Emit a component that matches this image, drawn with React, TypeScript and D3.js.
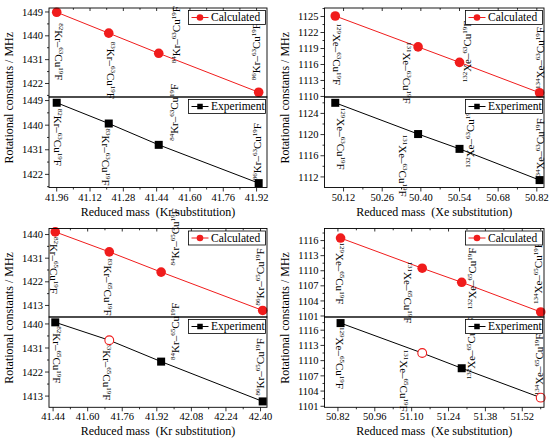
import * as d3 from "d3";

const FONT = "Liberation Serif, Tinos, DejaVu Serif, serif";
const RED = "#f01c1c";
const BLACK = "#000";

// reduced masses and rotational constants (MHz)
const KR63_MASS = [40.96, 41.21, 41.45, 41.93];
const KR63_CALC = [1448.9, 1441.0, 1433.4, 1418.7];
const KR63_EXP = [1448.2, 1440.6, 1432.8, 1418.8];
const KR63_HOLLOW = [false, false, false, false];

const XE63_MASS = [50.09, 50.39, 50.54, 50.83];
const XE63_CALC = [1125.1, 1119.3, 1116.4, 1110.7];
const XE63_EXP = [1126.0, 1120.1, 1117.3, 1111.4];
const XE63_HOLLOW = [false, false, false, false];

const KR65_MASS = [41.45, 41.7, 41.94, 42.41];
const KR65_CALC = [1441.0, 1433.4, 1425.7, 1411.1];
const KR65_EXP = [1440.6, 1433.9, 1425.9, 1411.0];
const KR65_HOLLOW = [false, true, false, false];

const XE65_MASS = [50.83, 51.14, 51.29, 51.59];
const XE65_CALC = [1116.5, 1110.5, 1107.7, 1101.8];
const XE65_EXP = [1117.4, 1111.5, 1108.5, 1102.7];
const XE65_HOLLOW = [false, true, false, true];

const KR_ISOTOPES = ["82", "83", "84", "86"];
const XE_ISOTOPES = ["129", "131", "132", "134"];

// tick values and labels
const KR63_XTICKS = [40.96, 41.12, 41.28, 41.44, 41.6, 41.76, 41.92];
const KR63_XLABELS = ["41.96", "41.12", "41.28", "41.44", "41.60", "41.76", "41.92"];
const KR65_XTICKS = [41.44, 41.6, 41.76, 41.92, 42.08, 42.24, 42.4];
const KR65_XLABELS = ["41.44", "41.60", "41.76", "41.92", "42.08", "42.24", "42.40"];
const XE63_XTICKS = [50.12, 50.26, 50.4, 50.54, 50.68, 50.82];
const XE63_XLABELS = ["50.12", "50.26", "50.40", "50.54", "50.68", "50.82"];
const XE65_XTICKS = [50.82, 50.96, 51.1, 51.24, 51.38, 51.52];
const XE65_XLABELS = ["50.82", "50.96", "51.10", "51.24", "51.38", "51.52"];

const KR63_YTICKS = [1422, 1431, 1440, 1449];
const KR65_YTICKS = [1413, 1422, 1431, 1440];
const XE63_CALC_YTICKS = [1110, 1113, 1116, 1119, 1122, 1125];
const XE63_EXP_YTICKS = [1112, 1116, 1120, 1124];
const XE65_YTICKS = [1101, 1104, 1107, 1110, 1113, 1116];

type Offset = [number, number, number]; // dx, dy, rotation

type Series = {
  values: number[];
  hollow?: boolean[];
  yDomain: [number, number];
  yTicks: number[];
  labelOffsets: Offset[];
};

type PanelDef = {
  col: number;
  row: number;
  element: string;
  cu: string;
  isotopes: string[];
  mass: number[];
  xDomain: [number, number];
  xTicks: number[];
  xLabels: string[];
  calc: Series;
  exp: Series;
};

const COLS = [
  { left: 49, right: 267, titleX: 13 },
  { left: 324.5, right: 544, titleX: 289 },
];
const ROWS = [
  { top: 8, split: 97, bottom: 187.5 },
  { top: 228.5, split: 317, bottom: 407.3 },
];

const TICK = { major: 4, minor: 2, fontSize: 10.5 };

const PANELS: PanelDef[] = [
  {
    col: 0,
    row: 0,
    element: "Kr",
    cu: "63",
    isotopes: KR_ISOTOPES,
    mass: KR63_MASS,
    xDomain: [40.923, 41.97],
    xTicks: KR63_XTICKS,
    xLabels: KR63_XLABELS,
    calc: {
      values: KR63_CALC,
      yDomain: [1416.9, 1450.5],
      yTicks: KR63_YTICKS,
      labelOffsets: [[-2, 11, 90], [-1.7, 8.7, 90], [21, 10, -90], [1, -12, -90]],
    },
    exp: {
      values: KR63_EXP,
      hollow: KR63_HOLLOW,
      yDomain: [1417.2, 1450.3],
      yTicks: KR63_YTICKS,
      labelOffsets: [[-3, 6, 90], [-7, 5, 90], [19, -4, -90], [2, -3, -90]],
    },
  },
  {
    col: 1,
    row: 0,
    element: "Xe",
    cu: "63",
    isotopes: XE_ISOTOPES,
    mass: XE63_MASS,
    xDomain: [50.051, 50.846],
    xTicks: XE63_XTICKS,
    xLabels: XE63_XLABELS,
    calc: {
      values: XE63_CALC,
      yDomain: [1109.9, 1126.6],
      yTicks: XE63_CALC_YTICKS,
      labelOffsets: [[-2.3, 7.4, 90], [-15, -5, 90], [11.6, 20, -90], [4.4, -3.7, -90]],
    },
    exp: {
      values: XE63_EXP,
      hollow: XE63_HOLLOW,
      yDomain: [1110, 1127.1],
      yTicks: XE63_EXP_YTICKS,
      labelOffsets: [[1.7, 5, 90], [-19, 0.7, 90], [14.4, 19, -90], [4, 0, -90]],
    },
  },
  {
    col: 0,
    row: 1,
    element: "Kr",
    cu: "65",
    isotopes: KR_ISOTOPES,
    mass: KR65_MASS,
    xDomain: [41.421, 42.43],
    xTicks: KR65_XTICKS,
    xLabels: KR65_XLABELS,
    calc: {
      values: KR65_CALC,
      yDomain: [1408.6, 1442.3],
      yTicks: KR65_YTICKS,
      labelOffsets: [[-5, 5, 90], [-5.6, 6.6, 90], [18, -6.7, -90], [1.6, -5, -90]],
    },
    exp: {
      values: KR65_EXP,
      hollow: KR65_HOLLOW,
      yDomain: [1408.8, 1442.6],
      yTicks: KR65_YTICKS,
      labelOffsets: [[-2.7, 4, 90], [-6.7, 3, 90], [18, -1.7, -90], [1.6, -6, -90]],
    },
  },
  {
    col: 1,
    row: 1,
    element: "Xe",
    cu: "65",
    isotopes: XE_ISOTOPES,
    mass: XE65_MASS,
    xDomain: [50.769, 51.6025],
    xTicks: XE65_XTICKS,
    xLabels: XE65_XLABELS,
    calc: {
      values: XE65_CALC,
      yDomain: [1100.8, 1118.4],
      yTicks: XE65_YTICKS,
      labelOffsets: [[-5, 4.4, 90], [-18.4, -6.6, 90], [14.3, 27, -90], [1, -8, -90]],
    },
    exp: {
      values: XE65_EXP,
      hollow: XE65_HOLLOW,
      yDomain: [1100.8, 1118.6],
      yTicks: XE65_YTICKS,
      labelOffsets: [[-4.3, 4, 90], [-22.4, -3.3, 90], [13.3, 11, -90], [2.4, -2.3, -90]],
    },
  },
];

function IsotopeLabel({
  x,
  y,
  rot,
  iso,
  element,
  cu,
}: {
  x: number;
  y: number;
  rot: number;
  iso: string;
  element: string;
  cu: string;
}) {
  const sup = 7;
  const shift = 4;
  return (
    <text
      transform={`translate(${x},${y}) rotate(${rot})`}
      style={{ fontFamily: FONT }}
      fontSize={11}
      fill={BLACK}
    >
      <tspan fontSize={sup} dy={-shift}>
        {iso}
      </tspan>
      <tspan dy={shift}>{element}–</tspan>
      <tspan fontSize={sup} dy={-shift}>
        {cu}
      </tspan>
      <tspan dy={shift}>Cu</tspan>
      <tspan fontSize={sup} dy={-shift}>
        19
      </tspan>
      <tspan dy={shift}>F</tspan>
    </text>
  );
}

function Marker({
  kind,
  x,
  y,
  hollow,
  small,
}: {
  kind: "calc" | "exp";
  x: number;
  y: number;
  hollow?: boolean;
  small?: boolean;
}) {
  if (kind === "calc") {
    return <circle cx={x} cy={y} r={small ? 3.3 : 4.8} fill={RED} />;
  }
  if (hollow) {
    return (
      <circle cx={x} cy={y} r={4.4} fill="#fff" stroke={RED} strokeWidth={1.1} />
    );
  }
  const s = small ? 5.5 : 8;
  return <rect x={x - s / 2} y={y - s / 2} width={s} height={s} fill={BLACK} />;
}

function Legend({
  right,
  top,
  kind,
}: {
  right: number;
  top: number;
  kind: "calc" | "exp";
}) {
  const w = 77;
  const h = 14;
  const x = right - w - 1.5;
  const y = top + 2.5;
  const color = kind === "calc" ? RED : BLACK;
  return (
    <g className="legend">
      <rect x={x} y={y} width={w} height={h} fill="#fff" stroke={BLACK} strokeWidth={0.8} />
      <line x1={x + 3} x2={x + 20} y1={y + h / 2} y2={y + h / 2} stroke={color} strokeWidth={1} />
      <Marker kind={kind} x={x + 11.5} y={y + h / 2} small />
      <text
        x={x + 22.5}
        y={y + h / 2 + 3.8}
        style={{ fontFamily: FONT }}
        fontSize={11.5}
        fill={BLACK}
      >
        {kind === "calc" ? "Calculated" : "Experiment"}
      </text>
    </g>
  );
}

function Subplot({
  panel,
  kind,
  top,
  bottom,
  showX,
}: {
  panel: PanelDef;
  kind: "calc" | "exp";
  top: number;
  bottom: number;
  showX: boolean;
}) {
  const { left, right } = COLS[panel.col];
  const series = kind === "calc" ? panel.calc : panel.exp;
  const color = kind === "calc" ? RED : BLACK;

  const xScale = d3.scaleLinear().domain(panel.xDomain).range([left, right]);
  const yScale = d3.scaleLinear().domain(series.yDomain).range([bottom, top]);

  const yStep = series.yTicks[1] - series.yTicks[0];
  const yMinor = series.yTicks
    .map((t) => t + yStep / 2)
    .concat([series.yTicks[0] - yStep / 2])
    .filter((t) => t > series.yDomain[0] && t < series.yDomain[1]);

  const xStep = panel.xTicks[2] - panel.xTicks[1];
  const xMinor = panel.xTicks
    .map((t) => t + xStep / 2)
    .concat([panel.xTicks[0] - xStep / 2])
    .filter((t) => t > panel.xDomain[0] && t < panel.xDomain[1]);

  const line = d3
    .line<number>()
    .x((_, i) => xScale(panel.mass[i]))
    .y((d) => yScale(d));

  return (
    <g className={`subplot-${kind}`}>
      {/* y axis ticks */}
      {series.yTicks.map((t) => (
        <g key={t}>
          <line
            x1={left - TICK.major}
            x2={left}
            y1={yScale(t)}
            y2={yScale(t)}
            stroke={BLACK}
            strokeWidth={0.8}
          />
          <text
            x={left - TICK.major - 2}
            y={yScale(t)}
            dy="0.35em"
            textAnchor="end"
            style={{ fontFamily: FONT }}
            fontSize={TICK.fontSize}
            fill={BLACK}
          >
            {t}
          </text>
        </g>
      ))}
      {yMinor.map((t) => (
        <line
          key={`m${t}`}
          x1={left - TICK.minor}
          x2={left}
          y1={yScale(t)}
          y2={yScale(t)}
          stroke={BLACK}
          strokeWidth={0.8}
        />
      ))}

      {/* top ticks (inward) on the calculated subplot */}
      {kind === "calc" &&
        panel.xTicks.concat(xMinor).map((t, i) => (
          <line
            key={`t${i}`}
            x1={xScale(t)}
            x2={xScale(t)}
            y1={top}
            y2={top + (i < panel.xTicks.length ? 3 : 1.8)}
            stroke={BLACK}
            strokeWidth={0.8}
          />
        ))}

      {/* bottom x axis */}
      {showX && (
        <g className="x-axis">
          {panel.xTicks.map((t, i) => (
            <g key={t}>
              <line
                x1={xScale(t)}
                x2={xScale(t)}
                y1={bottom}
                y2={bottom + TICK.major}
                stroke={BLACK}
                strokeWidth={0.8}
              />
              <text
                x={xScale(t)}
                y={bottom + 13}
                textAnchor="middle"
                style={{ fontFamily: FONT }}
                fontSize={TICK.fontSize}
                fill={BLACK}
              >
                {panel.xLabels[i]}
              </text>
            </g>
          ))}
          {xMinor.map((t) => (
            <line
              key={`xm${t}`}
              x1={xScale(t)}
              x2={xScale(t)}
              y1={bottom}
              y2={bottom + TICK.minor}
              stroke={BLACK}
              strokeWidth={0.8}
            />
          ))}
        </g>
      )}

      <path d={line(series.values) ?? undefined} fill="none" stroke={color} strokeWidth={1} />

      {series.values.map((v, i) => {
        const [dx, dy, rot] = series.labelOffsets[i];
        const px = xScale(panel.mass[i]);
        const py = yScale(v);
        return (
          <IsotopeLabel
            key={`l${i}`}
            x={px + dx}
            y={py + dy}
            rot={rot}
            iso={panel.isotopes[i]}
            element={panel.element}
            cu={panel.cu}
          />
        );
      })}

      {series.values.map((v, i) => (
        <Marker
          key={`p${i}`}
          kind={kind}
          x={xScale(panel.mass[i])}
          y={yScale(v)}
          hollow={series.hollow?.[i]}
        />
      ))}

      <rect
        x={left}
        y={top}
        width={right - left}
        height={bottom - top}
        fill="none"
        stroke={BLACK}
        strokeWidth={0.9}
      />
      <Legend right={right} top={top} kind={kind} />
    </g>
  );
}

function Panel({ panel }: { panel: PanelDef }) {
  const { left, right, titleX } = COLS[panel.col];
  const { top, split, bottom } = ROWS[panel.row];
  return (
    <g className="panel">
      <Subplot panel={panel} kind="calc" top={top} bottom={split} showX={false} />
      <Subplot panel={panel} kind="exp" top={split} bottom={bottom} showX={true} />
      <text
        transform={`translate(${titleX},${(top + bottom) / 2}) rotate(-90)`}
        textAnchor="middle"
        style={{ fontFamily: FONT }}
        fontSize={12}
        fill={BLACK}
      >
        Rotational constants / MHz
      </text>
      <text
        x={(left + right) / 2}
        y={bottom + 28}
        textAnchor="middle"
        style={{ fontFamily: FONT, whiteSpace: "pre" }}
        fontSize={12}
        fill={BLACK}
      >
        {`Reduced mass  (${panel.element} substitution)`}
      </text>
    </g>
  );
}

export default function App() {
  return (
    <svg
      width={550}
      height={440}
      style={{ position: "absolute", left: 0, top: 0, background: "#fff", fontFamily: FONT }}
      xmlns="http://www.w3.org/2000/svg"
    >
      {PANELS.map((p, i) => (
        <Panel key={i} panel={p} />
      ))}
    </svg>
  );
}
